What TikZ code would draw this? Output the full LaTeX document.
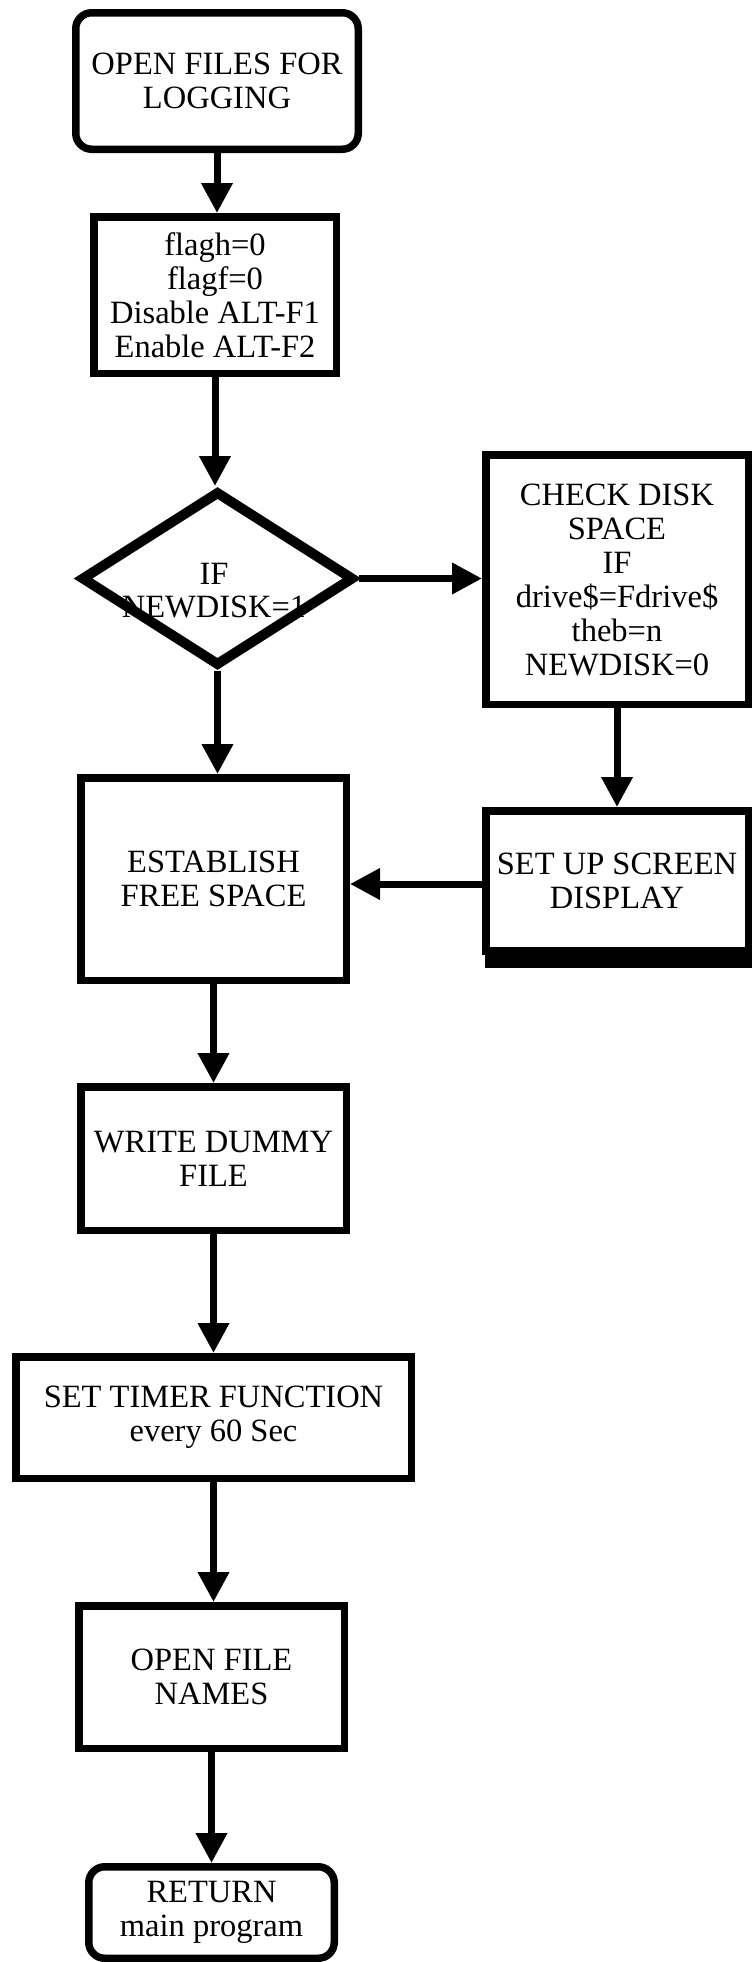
\documentclass[tikz,border=0pt]{standalone}
\usepackage{fontspec}
\setmainfont{Liberation Serif}
\usetikzlibrary{arrows.meta,shapes.geometric}

\newcommand{\chartfont}{\fontsize{32.5}{34}\selectfont}

\tikzset{
  box/.style={draw, line width=7.5pt, inner sep=0pt, align=center, font=\chartfont},
  rbox/.style={box, rounded corners=16pt},
  txt/.style={inner sep=0pt, align=center, font=\chartfont},
  conn/.style={line width=7pt, -{Triangle[width=30pt,length=30pt]}},
}

\begin{document}
\begin{tikzpicture}[x=1pt, y=-1pt]
  \useasboundingbox (0,0) rectangle (752,1962);

  % main column
  \node[rbox, minimum width=282.5pt, minimum height=136.5pt] (start) at (217,81)
    {OPEN FILES FOR\\LOGGING};
  \node[box, minimum width=242.5pt, minimum height=156.5pt] (flags) at (215,295)
    {flagh=0\\flagf=0\\Disable ALT-F1\\Enable ALT-F2};
  \node[draw, diamond, line width=10pt, minimum width=273pt, minimum height=175pt,
        inner sep=0pt] (dec) at (217.5,578.5) {};
  \node[txt, font=\fontsize{32.5}{33}\selectfont] (dectext) at (214,591) {IF\\NEWDISK=1};
  \node[box, minimum width=265.5pt, minimum height=202.5pt] (est) at (213.5,879)
    {ESTABLISH\\FREE SPACE};
  \node[box, minimum width=265.5pt, minimum height=143.5pt] (write) at (213.5,1158.5)
    {WRITE DUMMY\\FILE};
  \node[box, minimum width=395.5pt, minimum height=121.5pt] (timer) at (213.5,1417.5)
    {SET TIMER FUNCTION\\every 60 Sec};
  \node[box, minimum width=265.5pt, minimum height=142.5pt] (names) at (211.5,1677)
    {OPEN FILE\\NAMES};
  \node[rbox, minimum width=245.5pt, minimum height=91.5pt] (ret) at (211.5,1912.5)
    {RETURN\\main program};

  % side branch
  \node[box, minimum width=262.5pt, minimum height=249.5pt] (check) at (617,579.5)
    {CHECK DISK\\SPACE\\IF\\drive\$=Fdrive\$\\theb=n\\NEWDISK=0};
  \node[box, minimum width=262.5pt, minimum height=140.5pt] (setup) at (617,881)
    {SET UP SCREEN\\DISPLAY};
  \fill[black] ([xshift=3pt, yshift=8pt]setup.south west)
    rectangle ([yshift=-13pt]setup.south east);

  % connectors
  \draw[conn] (start.south) -- (start.south |- flags.north);
  \draw[conn] (flags.south) -- (flags.south |- dec.north);
  \draw[conn] (dec.east) -- (dec.east -| check.west);
  \draw[conn] (dec.south) -- (dec.south |- est.north);
  \draw[conn] (check.south) -- (check.south |- setup.north);
  \draw[conn] ([yshift=-3pt]setup.west) -- ([yshift=-3pt]setup.west -| est.east);
  \draw[conn] (est.south) -- (est.south |- write.north);
  \draw[conn] (write.south) -- (write.south |- timer.north);
  \draw[conn] (timer.south) -- (timer.south |- names.north);
  \draw[conn] (names.south) -- (names.south |- ret.north);
\end{tikzpicture}
\end{document}
